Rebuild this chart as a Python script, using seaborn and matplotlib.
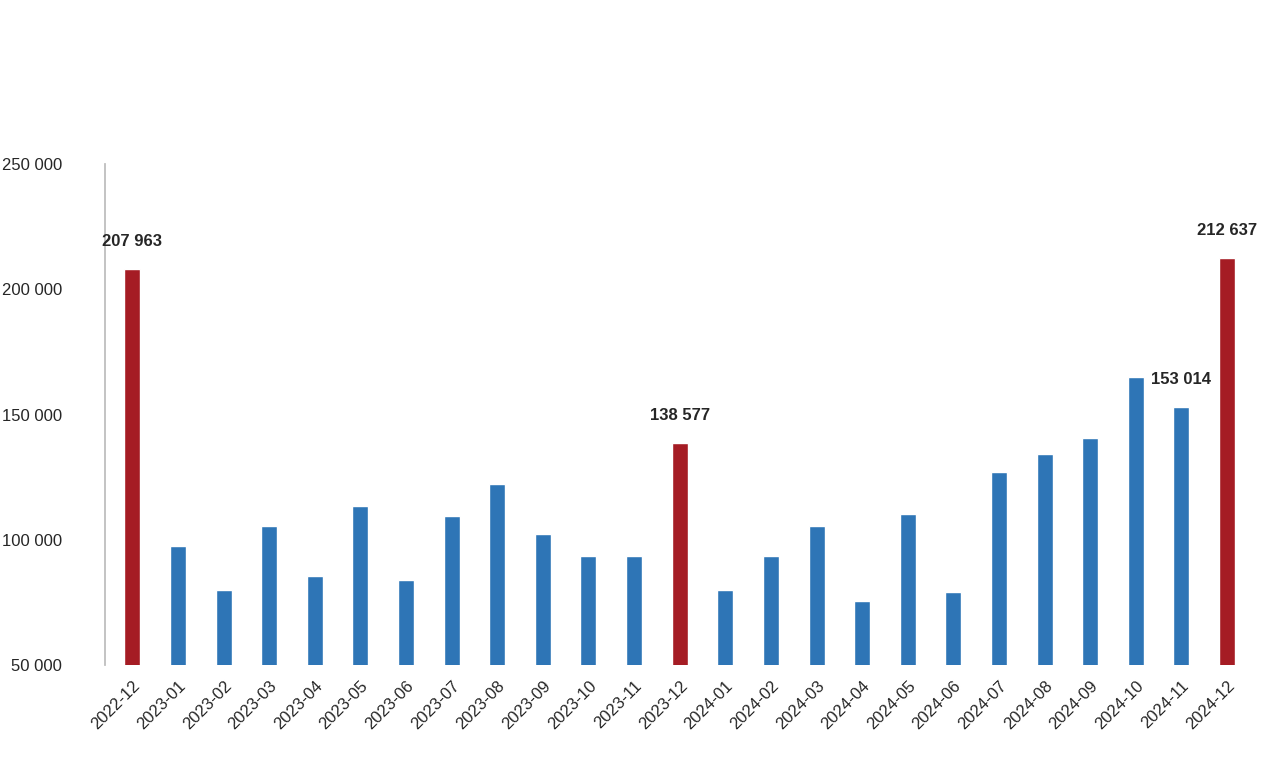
import matplotlib
matplotlib.use("Agg")
import matplotlib.pyplot as plt
import seaborn as sns
import pandas as pd

months = ["2022-12","2023-01","2023-02","2023-03","2023-04","2023-05","2023-06","2023-07",
          "2023-08","2023-09","2023-10","2023-11","2023-12","2024-01","2024-02","2024-03",
          "2024-04","2024-05","2024-06","2024-07","2024-08","2024-09","2024-10","2024-11","2024-12"]
values = [207963,97500,80000,105500,85500,113500,84000,109500,122250,102300,93500,93500,
          138577,80000,93500,105500,75500,110300,79100,127000,134200,140600,165000,153014,212637]
highlight = ["2022-12","2023-12","2024-12"]
labeled = ["2022-12","2023-12","2024-11","2024-12"]

sns.set_theme(style="white")
plt.rcParams['font.family'] = ['Liberation Sans', 'DejaVu Sans']
df = pd.DataFrame({"month": months, "value": values})
palette = {m: ("#a51c24" if m in highlight else "#2e75b6") for m in months}

fig = plt.figure(figsize=(12.8, 7.6), dpi=100)
ax = fig.add_axes([0.082, 0.125, 0.898, 0.659])
sns.barplot(data=df, x="month", y="value", hue="month", palette=palette,
            width=0.35, legend=False, ax=ax, saturation=1)
ax.set_ylim(50000, 250000)
ax.set_yticks(range(50000, 250001, 50000))
ax.set_yticklabels([f"{v:,}".replace(",", " ") for v in range(50000, 250001, 50000)], fontsize=12)
ax.tick_params(axis="y", pad=25)
ax.set_xlim(-0.6, len(months) - 0.4)
plt.setp(ax.get_xticklabels(), rotation=45, ha="right", rotation_mode="anchor", fontsize=12)
ax.set_xlabel(""); ax.set_ylabel("")
for s in ["top", "right", "bottom"]:
    ax.spines[s].set_visible(False)
ax.spines["left"].set_color("#bbbbbb")
for i, (m, v) in enumerate(zip(months, values)):
    if m in labeled:
        ax.text(i, v + 8000, f"{v:,}".replace(",", " "), ha="center", va="bottom",
                fontsize=12, fontweight="bold")
fig.savefig("out.png", dpi=100)
